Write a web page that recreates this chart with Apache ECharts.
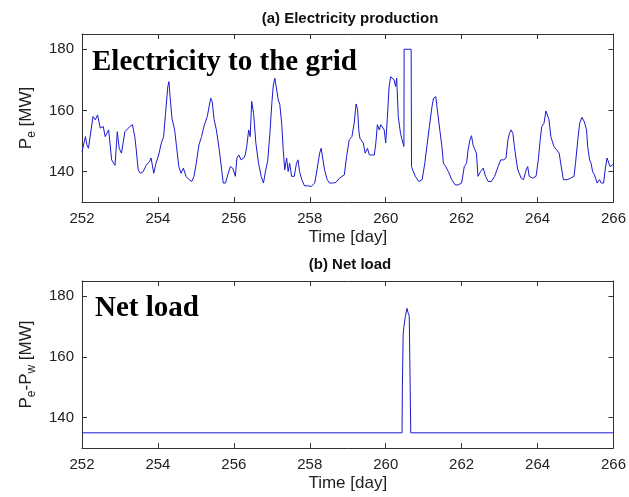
<!DOCTYPE html>
<html>
<head>
<meta charset="utf-8">
<script src="https://cdn.jsdelivr.net/npm/echarts@6/dist/echarts.min.js"></script>
<style>
html,body{margin:0;padding:0;background:#fff;}
#chart{width:629px;height:497px;}
</style>
</head>
<body>
<div id="chart"></div>
<script>
// ---- Data ----
const xTicks = [252, 254, 256, 258, 260, 262, 264, 266];
const yTicks = [140, 160, 180];

// (a) Electricity to the grid: time [day], Pe [MW]
const gridDays = [
252.00,252.09,252.13,252.17,252.29,252.35,252.41,252.48,252.56,252.61,252.70,252.74,252.78,252.87,252.93,252.98,
253.04,253.13,253.17,253.26,253.33,253.39,253.43,253.48,253.54,253.61,253.69,253.78,253.82,253.89,253.95,
254.02,254.09,254.15,254.20,254.26,254.29,254.32,254.37,254.41,254.44,254.49,254.55,254.61,254.67,254.74,254.82,254.89,254.95,
255.01,255.08,255.15,255.21,255.30,255.39,255.43,255.48,255.54,255.61,255.68,255.72,255.78,255.84,255.91,255.97,
256.04,256.08,256.13,256.19,256.26,256.30,256.34,256.39,256.43,256.47,256.52,256.58,256.65,256.72,256.78,256.84,256.89,256.95,
257.00,257.04,257.08,257.13,257.17,257.21,257.26,257.30,257.34,257.39,257.43,257.47,257.52,257.59,257.65,257.69,257.73,257.79,257.86,257.95,
258.04,258.13,258.19,258.26,258.30,258.34,258.39,258.46,258.52,258.60,258.69,258.78,258.91,258.97,
259.04,259.11,259.17,259.22,259.26,259.29,259.32,259.37,259.41,259.46,259.52,259.57,259.63,259.70,259.74,259.78,259.83,259.87,259.91,259.96,
260.00,260.04,260.09,260.13,260.17,260.22,260.26,260.29,260.33,260.39,260.43,260.48,260.485,260.67,260.68,260.71,260.78,260.87,260.96,
261.03,261.09,261.15,261.22,261.26,261.32,261.37,261.43,261.48,261.52,261.58,261.65,261.74,261.83,261.91,
262.00,262.07,262.13,262.17,262.22,262.26,262.30,262.35,262.39,262.43,262.50,262.57,262.63,262.70,262.78,262.87,262.96,
263.03,263.11,263.17,263.22,263.26,263.30,263.35,263.39,263.43,263.48,263.57,263.63,263.70,263.74,263.78,263.87,263.96,
264.02,264.07,264.11,264.17,264.22,264.26,264.30,264.35,264.43,264.50,264.57,264.61,264.68,264.78,264.87,264.96,
265.00,265.06,265.11,265.17,265.23,265.29,265.32,265.37,265.41,265.45,265.50,265.57,265.63,265.68,265.74,265.78,265.83,265.87,265.91,265.98,266.00
];
const gridMW = [
146.5,151.4,148.7,147.6,158.0,156.9,158.5,154.2,154.7,151.4,153.6,149.0,143.8,142.0,153.0,147.6,
146.0,153.0,152.5,154.7,155.3,151.4,147.0,140.5,139.4,139.9,142.0,143.3,144.4,139.4,142.7,
145.4,149.3,151.4,159.0,167.8,169.4,164.5,157.4,158.0,153.6,148.2,141.6,139.4,141.1,138.4,137.3,136.7,138.4,
142.7,148.7,151.4,154.7,158.0,164.0,162.8,157.0,153.6,147.6,140.5,136.2,136.2,138.9,141.6,141.1,
138.4,144.4,145.4,143.8,144.4,145.4,148.2,153.6,151.4,162.9,159.0,149.3,142.7,138.4,136.2,140.5,143.3,152.5,
162.3,168.3,170.5,170.0,163.4,162.0,155.8,147.1,140.5,144.4,140.0,142.7,138.4,138.4,142.7,143.8,140.0,137.3,135.3,135.3,
135.1,136.2,140.5,146.0,147.6,144.4,140.5,137.3,136.2,136.2,136.4,137.8,138.9,144.9,
150.4,151.4,155.8,162.1,160.2,153.6,150.9,151.4,149.3,146.0,147.6,145.4,145.4,145.4,149.3,155.3,153.6,155.3,154.7,153.6,
149.3,156.9,167.8,171.0,170.5,170.0,167.8,170.5,158.0,152.5,150.4,148.2,180.0,180.0,141.6,140.5,138.4,136.7,137.3,
142.7,148.7,154.7,161.3,164.0,164.5,159.1,153.1,148.2,142.7,141.6,140.0,137.3,135.6,135.6,
136.2,141.6,142.7,147.1,150.4,151.7,148.7,147.1,146.0,138.4,140.0,141.1,138.4,136.7,136.7,138.4,141.6,
143.8,143.8,144.4,150.4,152.5,153.6,152.5,148.2,144.4,140.5,137.8,137.3,140.5,141.6,138.4,137.8,138.4,
143.8,150.4,154.7,155.8,159.8,159.3,157.0,151.4,148.2,147.1,146.0,142.7,137.3,137.3,137.8,138.4,
142.7,150.4,155.8,157.7,156.3,153.6,148.2,143.8,142.7,139.9,138.9,136.2,137.3,136.2,136.2,140.5,144.4,143.8,141.6,142.2,142.0
];

// (b) Net load: time [day], Pe - Pw [MW]
const netDays = [252.00,260.43,260.44,260.46,260.48,260.52,260.56,260.59,260.62,260.65,260.66,266.00];
const netMW   = [135.0,135.0,151.0,167.5,170.0,173.5,176.0,174.5,173.5,173.5,135.0,135.0];

// ---- Chart ----
const zip = (a, b) => a.map((v, i) => [v, b[i]]);
const FONT = '"Liberation Sans", Arial, sans-serif';
const BOX = '#333333';
const LINE = '#1a1ad0';

function xAxisPair(gi) {
  const base = {
    gridIndex: gi, type: 'value', min: 252, max: 266, interval: 2,
    axisLine: { show: true, onZero: false, lineStyle: { color: BOX, width: 1 } },
    axisTick: { show: true, inside: true, length: 5, lineStyle: { color: BOX } },
    splitLine: { show: false }
  };
  return [
    Object.assign({}, base, {
      position: 'bottom',
      axisLabel: { show: true, fontSize: 15, color: '#222', fontFamily: FONT, margin: 9 },
      name: 'Time [day]', nameLocation: 'middle', nameGap: 27,
      nameTextStyle: { fontSize: 17, color: '#222', fontFamily: FONT }
    }),
    Object.assign({}, base, { position: 'top', axisLabel: { show: false } })
  ];
}
function yAxisPair(gi, name) {
  const base = {
    gridIndex: gi, type: 'value', min: 130, max: 185,
    axisLine: { show: true, onZero: false, lineStyle: { color: BOX, width: 1 } },
    axisTick: { show: true, inside: true, length: 5, customValues: yTicks, lineStyle: { color: BOX } },
    splitLine: { show: false }
  };
  return [
    Object.assign({}, base, {
      position: 'left',
      axisLabel: { show: true, customValues: yTicks, fontSize: 15, color: '#222', fontFamily: FONT, margin: 8 },
      name: name, nameLocation: 'middle', nameGap: 44,
      nameTextStyle: {
        color: '#222', fontFamily: FONT,
        rich: {
          m: { fontSize: 17, color: '#222', fontFamily: FONT, lineHeight: 20, verticalAlign: 'top' },
          s: { fontSize: 12, color: '#222', fontFamily: FONT, lineHeight: 12, padding: [12, 0, 0, 0], verticalAlign: 'bottom' }
        }
      }
    }),
    Object.assign({}, base, { position: 'right', axisLabel: { show: false } })
  ];
}

const chart = echarts.init(document.getElementById('chart'), null, { renderer: 'canvas' });
chart.setOption({
  backgroundColor: '#ffffff',
  animation: false,
  title: [
    { text: '(a) Electricity production', left: 345, top: 6, textAlign: 'center',
      textStyle: { fontSize: 15, fontWeight: 'bold', color: '#111', fontFamily: FONT } },
    { text: '(b) Net load', left: 345, top: 252, textAlign: 'center',
      textStyle: { fontSize: 15, fontWeight: 'bold', color: '#111', fontFamily: FONT } }
  ],
  grid: [
    { left: 82, right: 11, top: 34, height: 168 },
    { left: 82, right: 11, top: 281, height: 167 }
  ],
  xAxis: xAxisPair(0).concat(xAxisPair(1)),
  yAxis: yAxisPair(0, '{m|P}{s|e}{m| [MW]}').concat(yAxisPair(1, '{m|P}{s|e}{m|-P}{s|w}{m| [MW]}')),
  series: [
    { type: 'line', xAxisIndex: 0, yAxisIndex: 0, data: zip(gridDays, gridMW),
      showSymbol: false, lineStyle: { color: LINE, width: 1 }, silent: true },
    { type: 'line', xAxisIndex: 2, yAxisIndex: 2, data: zip(netDays, netMW),
      showSymbol: false, lineStyle: { color: LINE, width: 1 }, silent: true }
  ],
  graphic: [
    { type: 'text', left: 92, top: 48,
      style: { text: 'Electricity to the grid', font: 'bold 29px "Liberation Serif", "Times New Roman", serif', fill: '#000' } },
    { type: 'text', left: 95, top: 294,
      style: { text: 'Net load', font: 'bold 29px "Liberation Serif", "Times New Roman", serif', fill: '#000' } }
  ]
});
</script>
</body>
</html>
